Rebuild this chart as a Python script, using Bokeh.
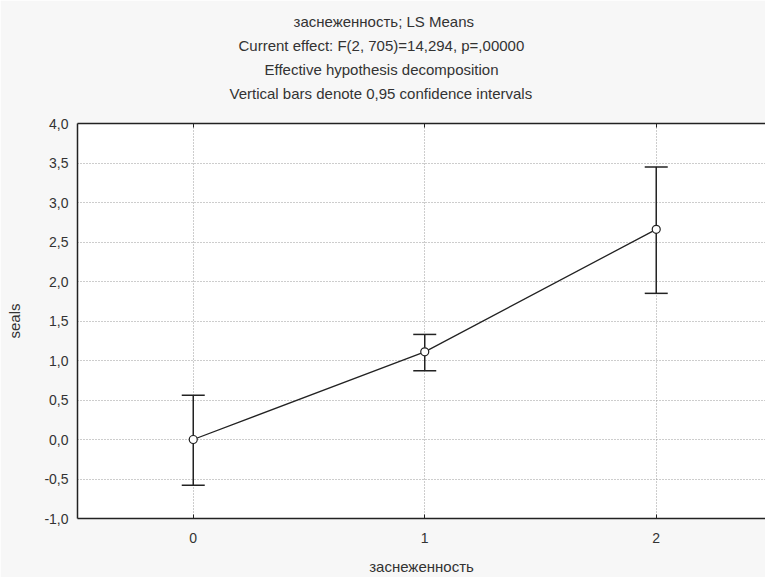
from bokeh.plotting import figure
from bokeh.models import (ColumnDataSource, Whisker, TeeHead, LinearAxis, FixedTicker,
                          CustomJSTickFormatter, Title, Range1d)
from bokeh.embed import file_html
from bokeh.resources import INLINE

# ---- data ----
categories = [0, 1, 2]
ls_means = [0.0, 1.11, 2.66]
ci_lower = [-0.58, 0.87, 1.85]
ci_upper = [0.56, 1.33, 3.45]
y_ticks = [-1.0, -0.5, 0.0, 0.5, 1.0, 1.5, 2.0, 2.5, 3.0, 3.5, 4.0]
title_lines = [
    "заснеженность; LS Means",
    "Current effect: F(2, 705)=14,294, p=,00000",
    "Effective hypothesis decomposition",
    "Vertical bars denote 0,95 confidence intervals",
]
x_title = "заснеженность"
y_title = "seals"

FONT = "Liberation Sans"
TXT = "#333333"
BG = "#f7f7f7"

W, H = 765, 577
ML, MR, MT, MB = 77, 0, 123, 58

p = figure(width=W, height=H, output_backend="svg", toolbar_location=None,
           x_range=Range1d(-0.5, 2.472), y_range=Range1d(-1.0, 4.0),
           min_border_left=ML, min_border_right=MR, min_border_top=MT,
           min_border_bottom=MB, x_axis_location=None, y_axis_location=None)
p.background_fill_color = "white"
p.border_fill_color = BG
p.outline_line_color = None

# bottom axis
xb = LinearAxis(ticker=FixedTicker(ticks=categories))
xb.axis_label = x_title
# left axis
yl = LinearAxis(ticker=FixedTicker(ticks=y_ticks))
yl.axis_label = y_title
yl.formatter = CustomJSTickFormatter(code="return tick.toFixed(1).replace('.', ',');")
# top axis (no labels)
xt = LinearAxis(ticker=FixedTicker(ticks=categories))

for ax in (xb, yl, xt):
    ax.axis_line_color = "#222222"
    ax.axis_line_width = 1.5
    ax.major_tick_line_color = "#222222"
    ax.minor_tick_line_color = None
    ax.major_tick_out = 0
    ax.major_tick_in = 4
    ax.major_label_text_font = FONT
    ax.major_label_text_font_size = "14px"
    ax.major_label_text_color = TXT
    ax.axis_label_text_font = FONT
    ax.axis_label_text_font_size = "15px"
    ax.axis_label_text_font_style = "normal"
    ax.axis_label_text_color = TXT
xt.major_label_text_color = None
xt.major_label_text_font_size = "1px"
xt.major_label_standoff = 0
yl.major_tick_in = 0
xb.major_label_standoff = 14
xb.axis_label_standoff = 12
yl.major_label_standoff = 9
yl.axis_label_standoff = 18

p.add_layout(xb, "below")
p.add_layout(yl, "left")
p.add_layout(xt, "above")

p.xgrid.ticker = FixedTicker(ticks=categories)
p.ygrid.ticker = FixedTicker(ticks=y_ticks)
for g in (p.xgrid, p.ygrid):
    g.grid_line_color = "#9a9a9a"
    g.grid_line_dash = "1 2"
    g.grid_line_width = 1

src = ColumnDataSource(data=dict(x=categories, y=ls_means, lo=ci_lower, hi=ci_upper))

w = Whisker(source=src, base="x", upper="hi", lower="lo", line_color="#222222",
            line_width=1.5,
            upper_head=TeeHead(size=23, line_color="#222222", line_width=1.5),
            lower_head=TeeHead(size=23, line_color="#222222", line_width=1.5))
p.add_layout(w)

p.line("x", "y", source=src, line_color="#222222", line_width=1.3)
p.scatter("x", "y", source=src, size=8, fill_color="white", line_color="#222222",
          line_width=1.2)

# spacer between the frame and the title block
p.add_layout(Title(text=" ", standoff=1, text_font=FONT, text_font_size="14px",
                   text_color=BG), "above")
# title block: later-added titles sit further from the frame
title_offsets = [216, 161, 187, 152]
for txt, off in reversed(list(zip(title_lines, title_offsets))):
    p.add_layout(Title(text=txt, align="left", offset=off, standoff=5,
                       text_font=FONT, text_font_size="15px",
                       text_font_style="normal", text_color=TXT), "above")

open("out.html", "w").write(file_html(p, INLINE))
